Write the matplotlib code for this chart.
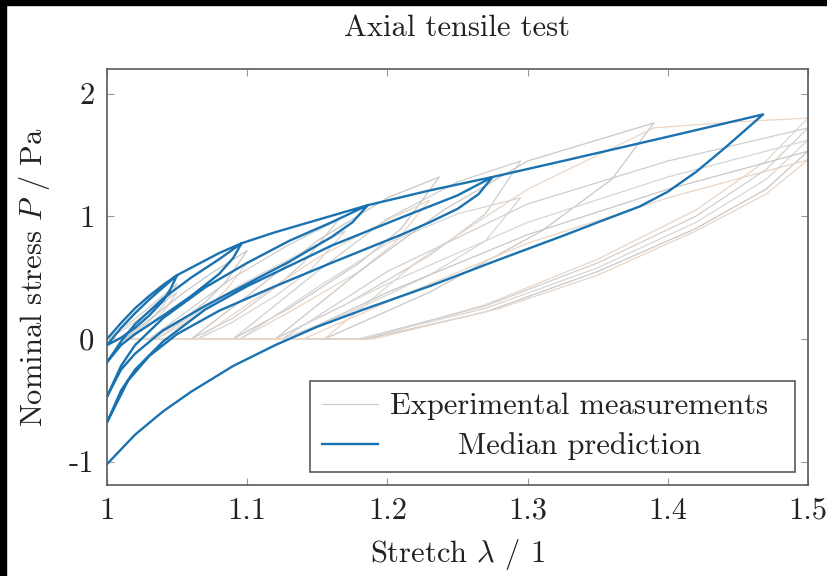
import matplotlib
matplotlib.use("Agg")
import matplotlib.pyplot as plt
from matplotlib.patches import Rectangle
from matplotlib.lines import Line2D

plt.rcParams['font.family'] = ['cmr10', 'DejaVu Serif']
plt.rcParams['mathtext.fontset'] = 'cm'
plt.rcParams['axes.unicode_minus'] = False

# ---------------- data ----------------
title = "Axial tensile test"
xlabel = r"Stretch $\lambda$ / 1"
ylabel = r"Nominal stress $P$ / Pa"
legend_labels = ["Experimental measurements", "Median prediction"]
xticks = [1.0, 1.1, 1.2, 1.3, 1.4, 1.5]
xtick_labels = ["1", "1.1", "1.2", "1.3", "1.4", "1.5"]
yticks = [-1, 0, 1, 2]
ytick_labels = ["-1", "0", "1", "2"]

# experimental loading/unloading loops (stretch, stress)
exp_lam = [
    [1.0, 1.0125, 1.025, 1.0375, 1.05, 1.04, 1.03, 1.02, 1.012, 1.0],
    [1.0, 1.0125, 1.025, 1.0375, 1.05, 1.04, 1.03, 1.02, 1.015, 1.0],
    [1.0, 1.012, 1.035, 1.055, 1.075, 1.10, 1.085, 1.07, 1.05, 1.03, 1.0],
    [1.0, 1.015, 1.035, 1.055, 1.075, 1.10, 1.085, 1.07, 1.05, 1.035, 1.0],
    [1.0, 1.03, 1.06, 1.09, 1.13, 1.165, 1.14, 1.12, 1.09, 1.06, 1.0],
    [1.0, 1.035, 1.065, 1.095, 1.135, 1.17, 1.145, 1.12, 1.09, 1.065, 1.0],
    [1.0, 1.06, 1.10, 1.15, 1.20, 1.237, 1.21, 1.18, 1.13, 1.09, 1.0],
    [1.0, 1.065, 1.10, 1.15, 1.20, 1.23, 1.205, 1.18, 1.13, 1.095, 1.0],
    [1.0, 1.09, 1.15, 1.20, 1.25, 1.295, 1.27, 1.23, 1.17, 1.12, 1.0],
    [1.0, 1.095, 1.15, 1.20, 1.25, 1.295, 1.27, 1.23, 1.17, 1.125, 1.0],
    [1.0, 1.12, 1.18, 1.24, 1.30, 1.39, 1.36, 1.31, 1.23, 1.155, 1.0],
    [1.0, 1.155, 1.22, 1.30, 1.39, 1.45, 1.5, 1.47, 1.42, 1.35, 1.27, 1.185, 1.0],
    [1.0, 1.125, 1.20, 1.30, 1.40, 1.5, 1.47, 1.42, 1.35, 1.27, 1.18, 1.0],
    [1.0, 1.12, 1.20, 1.30, 1.40, 1.5, 1.47, 1.42, 1.35, 1.27, 1.18, 1.0],
    [1.0, 1.13, 1.20, 1.30, 1.40, 1.5, 1.47, 1.42, 1.35, 1.27, 1.185, 1.0],
    [1.0, 1.14, 1.22, 1.30, 1.40, 1.5, 1.47, 1.42, 1.35, 1.28, 1.19, 1.0],
]
exp_P = [
    [0.0, 0.10, 0.21, 0.33, 0.45, 0.27, 0.14, 0.05, 0.0, 0.0],
    [0.0, 0.08, 0.18, 0.28, 0.38, 0.22, 0.11, 0.03, 0.0, 0.0],
    [0.0, 0.0, 0.20, 0.38, 0.54, 0.72, 0.47, 0.30, 0.12, 0.0, 0.0],
    [0.0, 0.0, 0.15, 0.31, 0.46, 0.62, 0.40, 0.24, 0.09, 0.0, 0.0],
    [0.0, 0.0, 0.25, 0.50, 0.77, 0.97, 0.62, 0.42, 0.17, 0.0, 0.0],
    [0.0, 0.0, 0.22, 0.44, 0.68, 0.88, 0.56, 0.35, 0.14, 0.0, 0.0],
    [0.0, 0.0, 0.35, 0.80, 1.15, 1.32, 0.90, 0.62, 0.25, 0.0, 0.0],
    [0.0, 0.0, 0.28, 0.66, 0.97, 1.13, 0.78, 0.55, 0.22, 0.0, 0.0],
    [0.0, 0.0, 0.55, 0.98, 1.28, 1.45, 1.02, 0.68, 0.28, 0.0, 0.0],
    [0.0, 0.0, 0.42, 0.78, 1.02, 1.15, 0.80, 0.52, 0.20, 0.0, 0.0],
    [0.0, 0.0, 0.55, 1.05, 1.45, 1.76, 1.30, 0.88, 0.38, 0.0, 0.0],
    [0.0, 0.0, 0.62, 1.22, 1.72, 1.77, 1.80, 1.45, 1.05, 0.65, 0.28, 0.0, 0.0],
    [0.0, 0.0, 0.55, 1.10, 1.45, 1.72, 1.38, 1.00, 0.62, 0.27, 0.0, 0.0],
    [0.0, 0.0, 0.45, 0.95, 1.32, 1.62, 1.30, 0.95, 0.58, 0.25, 0.0, 0.0],
    [0.0, 0.0, 0.38, 0.85, 1.22, 1.53, 1.22, 0.90, 0.55, 0.22, 0.0, 0.0],
    [0.0, 0.0, 0.40, 0.78, 1.15, 1.46, 1.18, 0.88, 0.52, 0.25, 0.0, 0.0],
]

# median prediction: one continuous load path
pred_lam = [
    1.0, 1.01, 1.02, 1.03, 1.04, 1.05,                       # virgin 1
    1.045, 1.04, 1.03, 1.02, 1.01, 1.0,                      # unload 1
    1.01, 1.02, 1.03, 1.04, 1.05,                            # reload 2
    1.06, 1.07, 1.08, 1.096,                                 # virgin 2
    1.09, 1.08, 1.06, 1.04, 1.02, 1.01, 1.0,                 # unload 2
    1.01, 1.02, 1.04, 1.06, 1.08, 1.096,                     # reload 3
    1.12, 1.15, 1.186,                                       # virgin 3
    1.175, 1.16, 1.13, 1.10, 1.07, 1.04, 1.02, 1.01, 1.0,    # unload 3
    1.01, 1.02, 1.04, 1.07, 1.10, 1.13, 1.16, 1.186,         # reload 4
    1.23, 1.275,                                             # virgin 4
    1.265, 1.25, 1.23, 1.21, 1.16, 1.12, 1.08, 1.05, 1.03, 1.015, 1.0,  # unload 4
    1.01, 1.02, 1.04, 1.07, 1.10, 1.16, 1.21, 1.25, 1.275,   # reload 5
    1.325, 1.397, 1.468,                                     # virgin 5
    1.455, 1.44, 1.42, 1.40, 1.38, 1.35, 1.325, 1.278, 1.230, 1.183,
    1.15, 1.12, 1.09, 1.06, 1.04, 1.02, 1.0,                 # unload 5
]
pred_P = [
    0.0, 0.13, 0.25, 0.35, 0.44, 0.52,
    0.40, 0.31, 0.19, 0.09, 0.01, -0.05,
    0.09, 0.21, 0.32, 0.42, 0.52,
    0.58, 0.64, 0.70, 0.78,
    0.66, 0.53, 0.35, 0.19, 0.04, -0.05, -0.19,
    -0.02, 0.12, 0.33, 0.50, 0.65, 0.78,
    0.87, 0.97, 1.09,
    0.95, 0.83, 0.63, 0.45, 0.27, 0.07, -0.12, -0.25, -0.47,
    -0.22, -0.05, 0.17, 0.42, 0.62, 0.80, 0.95, 1.09,
    1.21, 1.32,
    1.18, 1.06, 0.95, 0.85, 0.62, 0.43, 0.23, 0.04, -0.14, -0.34, -0.68,
    -0.42, -0.25, -0.02, 0.24, 0.43, 0.76, 0.99, 1.17, 1.32,
    1.45, 1.64, 1.83,
    1.70, 1.55, 1.36, 1.20, 1.08, 0.95, 0.84, 0.64, 0.43, 0.24,
    0.10, -0.05, -0.22, -0.43, -0.59, -0.78, -1.02,
]

# ---------------- plot ----------------
W, H = 827, 576
fig = plt.figure(figsize=(W / 100, H / 100), dpi=100)
fig.patch.set_facecolor("white")
# black frame strips on top and left edge
fig.patches.append(Rectangle((0, 1 - 5 / H), 1, 5 / H, transform=fig.transFigure,
                             color="black", zorder=0))
fig.patches.append(Rectangle((0, 0), 6 / W, 1, transform=fig.transFigure,
                             color="black", zorder=0))

ax = fig.add_axes([107 / W, 1 - 485 / H, (808 - 107) / W, (485 - 69) / H])

grey_cols = ["#cfcfcf", "#d6d6d6", "#c8c8c8", "#e9d6c6"]
for i, (lx, py) in enumerate(zip(exp_lam, exp_P)):
    ax.plot(lx, py, color=grey_cols[i % len(grey_cols)], lw=0.9, zorder=2)

blue = "#1b72b0"
ax.plot(pred_lam, pred_P, color=blue, lw=1.7, zorder=3, solid_joinstyle="round")

ax.set_xlim(1.0, 1.5)
ax.set_ylim(-1.19, 2.2)
ax.set_xticks(xticks)
ax.set_xticklabels(xtick_labels)
ax.set_yticks(yticks)
ax.set_yticklabels(ytick_labels)

frame_col = "#5a5a5a"
for s in ax.spines.values():
    s.set_color(frame_col)
    s.set_linewidth(1.2)
fs = 22
ax.tick_params(direction="in", length=5, width=0.8, color="#9a9a9a",
               top=True, right=True, labelsize=fs, pad=9, labelcolor="#222222")

ax.set_title(title, fontsize=fs, pad=24, color="#222222")
ax.set_xlabel(xlabel, fontsize=fs, labelpad=9, color="#222222")
ax.set_ylabel(ylabel, fontsize=fs, labelpad=12, color="#222222")

handles = [Line2D([], [], color="#cccccc", lw=0.9),
           Line2D([], [], color=blue, lw=1.7)]
extra = 15  # extra right padding (px) like pgfplots legend cell
leg = ax.legend(handles, legend_labels, loc="lower right",
                bbox_to_anchor=(795 / W, 1 - 472 / H), bbox_transform=fig.transFigure,
                fontsize=fs, fancybox=False, framealpha=1, edgecolor=frame_col,
                handlelength=1.85, handletextpad=(12 + extra) / 30.5,
                borderpad=0.38, labelspacing=0.4, borderaxespad=0)
leg.get_frame().set_linewidth(1.2)
for t in leg.get_texts():
    t.set_color("#222222")

# centre the legend labels like pgfplots
fig.canvas.draw()
r = fig.canvas.get_renderer()
texts = leg.get_texts()
widths = [t.get_window_extent(r).width for t in texts]
wmax = max(widths)
for t, w in zip(texts, widths):
    t.set_position(((wmax - w) / 2 - extra, 0))

fig.savefig("out.png", dpi=100, facecolor="white")
